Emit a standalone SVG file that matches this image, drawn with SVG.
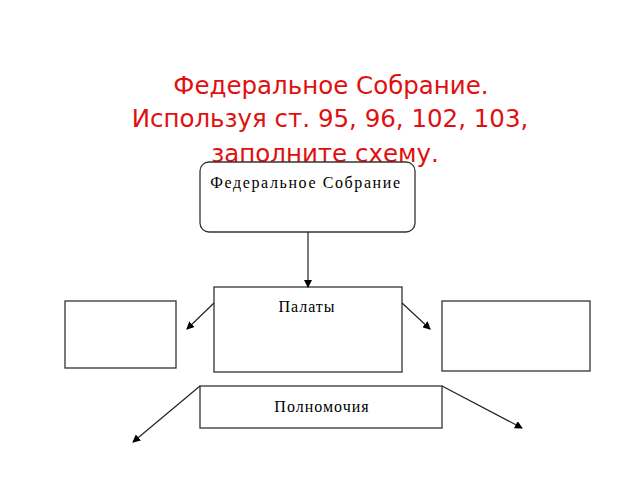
<svg xmlns="http://www.w3.org/2000/svg" width="640" height="480" viewBox="0 0 640 480">
<defs>
<marker id="ah" markerWidth="8" markerHeight="8" refX="7" refY="4" orient="auto" markerUnits="userSpaceOnUse"><path d="M0,0 L8,4 L0,8 z" fill="#000"/></marker>
<style>
.t{font-family:"DejaVu Sans",sans-serif;font-size:24.5px;fill:#e01010;text-anchor:middle}
.b{fill:#fff;stroke:#333;stroke-width:1.3}
.l{font-family:"Liberation Serif",serif;font-size:16px;letter-spacing:1px;fill:#000;text-anchor:middle}
.c{stroke:#222;stroke-width:1.2;fill:none;marker-end:url(#ah)}
</style>
</defs>
<rect width="640" height="480" fill="#fff"/>
<g id="title">
<text class="t" x="331" y="94">Федеральное Собрание.</text>
<text class="t" x="330" y="127">Используя ст. 95, 96, 102, 103,</text>
<text class="t" x="325" y="162">заполните схему.</text>
</g>
<g id="fed"><rect class="b" x="200" y="162" width="215" height="70" rx="9"/><text class="l" x="306" y="188" style="letter-spacing:1.6px">Федеральное  Собрание</text></g>
<g id="palaty"><rect class="b" x="214" y="287" width="188" height="85"/><text class="l" x="307" y="312">Палаты</text></g>
<g id="left"><rect class="b" x="65" y="301" width="111" height="67"/></g>
<g id="right"><rect class="b" x="442" y="301" width="148" height="70"/></g>
<g id="poln"><rect class="b" x="200" y="386" width="242" height="42" stroke-width="1.6"/><text class="l" x="322" y="412">Полномочия</text></g>
<g id="connectors">
<path class="c" d="M308,232 V287"/>
<path class="c" d="M214,303 L187,329"/>
<path class="c" d="M402,303 L430,329"/>
<path class="c" d="M200,386 L133,442"/>
<path class="c" d="M442,386 L522,428"/>
</g>
</svg>
